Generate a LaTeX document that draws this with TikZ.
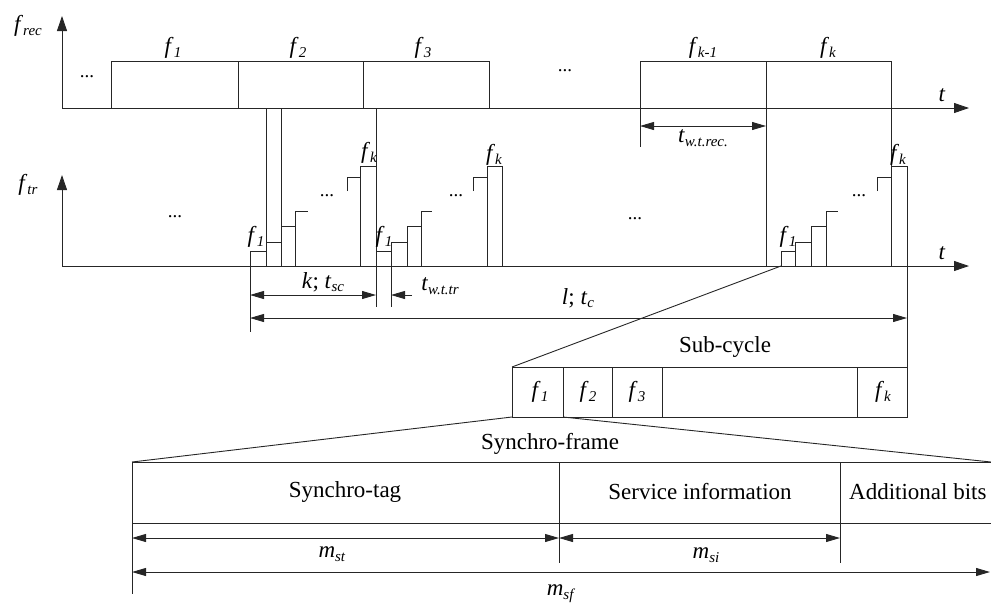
\documentclass[tikz,border=0pt]{standalone}
\usepackage{fontspec}
\setmainfont{Liberation Serif}
\usetikzlibrary{arrows.meta}
\newcommand{\vrb}[2]{\textit{#1}\raisebox{-0.35ex}{\fontsize{15}{15}\selectfont\textit{#2}}}
\begin{document}
\begin{tikzpicture}[x=1pt,y=-1pt,
  ln/.style={line width=0.9pt,draw=black!85},
  axisarr/.style={ln,-{Triangle[length=15pt,width=10pt]}},
  dimarr/.style={ln,{Triangle[length=14pt,width=8pt]}-{Triangle[length=14pt,width=8pt]}},
  onearr/.style={ln,-{Triangle[length=14pt,width=8pt]}},
  lbl/.style={font=\fontsize{23}{26}\selectfont, inner sep=0pt},
  txt/.style={font=\fontsize{23}{26}\selectfont, inner sep=0pt},
  dots/.style={font=\fontsize{19}{20}\selectfont, inner sep=0pt}]
\useasboundingbox (0,0) rectangle (991,603);

% ---------- receiver axis ----------
\coordinate (o1) at (62,108);
\coordinate (y1) at (62,16);
\coordinate (x1) at (969,108);
\draw[axisarr] (o1) -- (y1);
\draw[axisarr] (o1) -- (x1);
\node[lbl] (frec) at (28,26) {\vrb{f}{rec}};
\node[lbl] (t1) at (942,95) {\textit{t}};
\node[dots] (d1) at (87,77) {...};
\node[dots] (d2) at (565,71) {...};

\draw[ln] (111,61) rectangle (238,108);
\draw[ln] (238,61) rectangle (363,108);
\draw[ln] (363,61) rectangle (489,108);
\draw[ln] (640,61) rectangle (766,108);
\draw[ln] (766,61) rectangle (891,108);
\node[lbl] (rf1) at (173,48) {\vrb{f}{1}};
\node[lbl] (rf2) at (298,48) {\vrb{f}{2}};
\node[lbl] (rf3) at (423,48) {\vrb{f}{3}};
\node[lbl] (rfk1) at (703,48) {\vrb{f}{k-1}};
\node[lbl] (rfk) at (828,48) {\vrb{f}{k}};

% t_w.t.rec
\coordinate (wa) at (640,126);
\coordinate (wb) at (766,126);
\draw[ln] (640,108) -- (640,147);
\draw[dimarr] (wa) -- (wb);
\node[lbl] (twtrec) at (703,138) {\vrb{t}{w.t.rec.}};

% ---------- transmitter axis ----------
\coordinate (o2) at (62,266);
\coordinate (y2) at (62,175);
\coordinate (x2) at (969,266);
\draw[axisarr] (o2) -- (y2);
\draw[axisarr] (o2) -- (x2);
\node[lbl] (ftr) at (28,185) {\vrb{f}{tr}};
\node[lbl] (t2) at (942,253) {\textit{t}};
\node[dots] (d3) at (175,217) {...};
\node[dots] (d4) at (635,219) {...};

% vertical link lines
\draw[ln] (266,108) -- (266,266);
\draw[ln] (281,108) -- (281,266);
\draw[ln] (376,108) -- (376,307);
\draw[ln] (391,242) -- (391,307);
\draw[ln] (250,251) -- (250,332);
\draw[ln] (766,108) -- (766,266);
\draw[ln] (891,108) -- (891,166);
\draw[ln] (907,166) -- (907,367);

% pulse groups
\foreach \a/\b/\c/\d/\e/\g/\h/\i in {250/266/281/295/308/347/360/376, 376/391/407/421/432/473/487/502, 781/795/811/826/838/877/891/907}{
  \draw[ln] (\a,266) rectangle (\b,251);
  \draw[ln] (\b,266) rectangle (\c,242);
  \draw[ln] (\c,266) rectangle (\d,226);
  \draw[ln] (\d,226) -- (\d,211) -- (\e,211);
  \draw[ln] (\g,191) -- (\g,177) -- (\h,177);
  \draw[ln] (\h,266) rectangle (\i,166);
}
\node[lbl] (g1f1) at (256,237) {\vrb{f}{1}};
\node[lbl] (g2f1) at (384,237) {\vrb{f}{1}};
\node[lbl] (g3f1) at (788,237) {\vrb{f}{1}};
\node[lbl] (g1fk) at (369,153) {\vrb{f}{k}};
\node[lbl] (g2fk) at (494,155) {\vrb{f}{k}};
\node[lbl] (g3fk) at (898,155) {\vrb{f}{k}};
\node[dots] (g1d) at (327,196) {...};
\node[dots] (g2d) at (456,196) {...};
\node[dots] (g3d) at (859,196) {...};

% dimension arrows
\coordinate (ka) at (250,295);
\coordinate (kb) at (376,295);
\draw[dimarr] (ka) -- (kb);
\node[lbl] (ktsc) at (323,282) {\textit{k}; \vrb{t}{sc}};
\coordinate (wta) at (412,295);
\coordinate (wtb) at (391,295);
\draw[onearr] (wta) -- (wtb);
\node[lbl] (twttr) at (440,286) {\vrb{t}{w.t.tr}};
\coordinate (la) at (250,318);
\coordinate (lb) at (907,318);
\draw[dimarr] (la) -- (lb);
\node[lbl] (ltc) at (578,298) {\textit{l}; \vrb{t}{c}};

% ---------- sub-cycle ----------
\coordinate (z1) at (781,266);
\coordinate (sc1) at (512,367);
\draw[ln] (z1) -- (sc1);
\draw[ln] (512,367) rectangle (907,417);
\foreach \x in {563,612,662,857} \draw[ln] (\x,367) -- (\x,417);
\node[txt] (subc) at (725,347) {Sub-cycle};
\node[lbl] (sf1) at (540,392) {\vrb{f}{1}};
\node[lbl] (sf2) at (588,392) {\vrb{f}{2}};
\node[lbl] (sf3) at (637,392) {\vrb{f}{3}};
\node[lbl] (sfk) at (883,392) {\vrb{f}{k}};

% ---------- synchro-frame ----------
\coordinate (s1) at (512,417);
\coordinate (s2) at (563,417);
\coordinate (b1) at (132,462);
\coordinate (b2) at (991,462);
\draw[ln] (s1) -- (b1);
\draw[ln] (s2) -- (b2);
\draw[ln] (132,462) -- (991,462);
\draw[ln] (132,523) -- (991,523);
\draw[ln] (132,462) -- (132,594);
\draw[ln] (559,462) -- (559,563);
\draw[ln] (840,462) -- (840,563);
\node[txt] (sfr) at (550,444) {Synchro-frame};
\node[txt] (stag) at (345,492) {Synchro-tag};
\node[txt] (sinf) at (700,492) {Service information};
\node[txt,anchor=west] (abits) at (849,492) {Additional bits};

\coordinate (ma) at (132,538);
\coordinate (mb) at (559,538);
\coordinate (mc) at (840,538);
\coordinate (md) at (132,572);
\coordinate (me) at (990,572);
\draw[dimarr] (ma) -- (mb);
\draw[dimarr] (mb) -- (mc);
\draw[dimarr] (md) -- (me);
\node[lbl] (mst) at (332,554) {\vrb{m}{st}};
\node[lbl] (msi) at (706,555) {\vrb{m}{si}};
\node[lbl] (msf) at (561,594) {\vrb{m}{sf}};
\end{tikzpicture}
\end{document}
